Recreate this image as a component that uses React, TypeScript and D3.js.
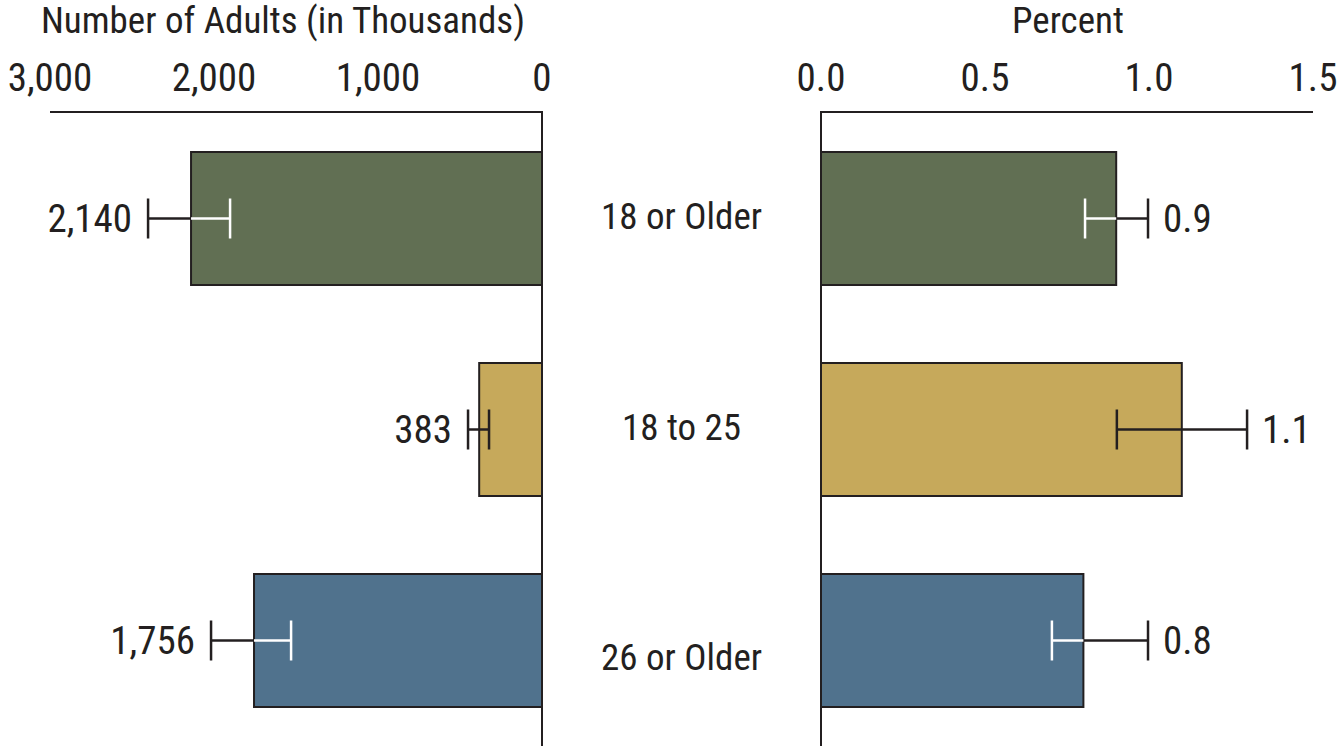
import React from "react";
import * as d3 from "d3";

const categories = ["18 or Older", "18 to 25", "26 or Older"];
const adults = [2140, 383, 1756];
const adultsLow = [1902, 323, 1530];
const adultsHigh = [2402, 451, 2018];
const adultLabels = ["2,140", "383", "1,756"];
const percent = [0.9, 1.1, 0.8];
const percentLow = [0.805, 0.902, 0.704];
const percentHigh = [0.997, 1.299, 0.997];
const percentLabels = ["0.9", "1.1", "0.8"];
const colors = ["#616F53", "#C6A95B", "#50728D"];
const whiteInner = [true, false, true];
const adultTicks = [3000, 2000, 1000, 0];
const percentTicks = [0, 0.5, 1.0, 1.5];

const FONT = "'Liberation Sans Narrow', 'Roboto Condensed', 'Liberation Sans', Arial, sans-serif";

export default function App() {
  const W = 1341, H = 754;
  const axisY = 112;
  const xL = d3.scaleLinear().domain([0, 3000]).range([542, 50]);
  const xR = d3.scaleLinear().domain([0, 1.5]).range([821, 1313]);
  const yb = d3.scaleBand<string>().domain(categories).range([152, 707]).paddingInner(78 / 211);
  const bw = yb.bandwidth();
  const capH = 40;
  const ew = 2.5;
  const fmtL = d3.format(",");
  const fmtR = d3.format(".1f");
  const ink = "#231F20";
  const catOffset = (i: number) => (i === categories.length - 1 ? 16 : -3);

  return (
    <svg width={W} height={H} style={{ position: "absolute", left: 0, top: 0 }} fontFamily={FONT}>
      <rect width={W} height={H} fill="#fff" />
      <text x={(xL(0) + xL(3000)) / 2 - 13} y={33} fontSize={37} textAnchor="middle" fill={ink}>
        Number of Adults (in Thousands)
      </text>
      <text x={(xR(0) + xR(1.5)) / 2 + 1} y={33} fontSize={37} textAnchor="middle" fill={ink}>
        Percent
      </text>
      {adultTicks.map((t) => (
        <text key={"lt" + t} x={xL(t)} y={91} fontSize={39} textAnchor="middle" fill={ink}>
          {fmtL(t)}
        </text>
      ))}
      {percentTicks.map((t) => (
        <text key={"rt" + t} x={xR(t)} y={91} fontSize={39} textAnchor="middle" fill={ink}>
          {fmtR(t)}
        </text>
      ))}
      {categories.map((c, i) => (
        <rect key={"lb" + c} x={xL(adults[i])} y={yb(c)!} width={xL(0) - xL(adults[i])} height={bw}
          fill={colors[i]} stroke={ink} strokeWidth={2} />
      ))}
      {categories.map((c, i) => (
        <rect key={"rb" + c} x={xR(0)} y={yb(c)!} width={xR(percent[i]) - xR(0)} height={bw}
          fill={colors[i]} stroke={ink} strokeWidth={2} />
      ))}
      <line x1={xL(3000)} x2={xL(0)} y1={axisY} y2={axisY} stroke={ink} strokeWidth={2} />
      <line x1={xL(0)} x2={xL(0)} y1={axisY - 1} y2={746} stroke={ink} strokeWidth={2} />
      <line x1={xR(0)} x2={xR(1.5)} y1={axisY} y2={axisY} stroke={ink} strokeWidth={2} />
      <line x1={xR(0)} x2={xR(0)} y1={axisY - 1} y2={746} stroke={ink} strokeWidth={2} />
      {categories.map((c, i) => {
        const cy = yb(c)! + bw / 2;
        const xa = xL(adultsHigh[i]);
        const xb = xL(adultsLow[i]);
        const xe = xL(adults[i]);
        const inner = whiteInner[i] ? "#fff" : ink;
        return (
          <g key={"le" + c}>
            <line x1={xa} x2={xe} y1={cy} y2={cy} stroke={ink} strokeWidth={ew} />
            <line x1={xa} x2={xa} y1={cy - capH / 2} y2={cy + capH / 2} stroke={ink} strokeWidth={ew} />
            <line x1={xe} x2={xb} y1={cy} y2={cy} stroke={inner} strokeWidth={ew} />
            <line x1={xb} x2={xb} y1={cy - capH / 2} y2={cy + capH / 2} stroke={inner} strokeWidth={ew} />
            <text x={xa - 16} y={cy + 13} fontSize={39} textAnchor="end" fill={ink}>{adultLabels[i]}</text>
          </g>
        );
      })}
      {categories.map((c, i) => {
        const cy = yb(c)! + bw / 2;
        const xa = xR(percentHigh[i]);
        const xb = xR(percentLow[i]);
        const xe = xR(percent[i]);
        const inner = whiteInner[i] ? "#fff" : ink;
        return (
          <g key={"re" + c}>
            <line x1={xe} x2={xa} y1={cy} y2={cy} stroke={ink} strokeWidth={ew} />
            <line x1={xa} x2={xa} y1={cy - capH / 2} y2={cy + capH / 2} stroke={ink} strokeWidth={ew} />
            <line x1={xb} x2={xe} y1={cy} y2={cy} stroke={inner} strokeWidth={ew} />
            <line x1={xb} x2={xb} y1={cy - capH / 2} y2={cy + capH / 2} stroke={inner} strokeWidth={ew} />
            <text x={xa + 15} y={cy + 13} fontSize={39} textAnchor="start" fill={ink}>{percentLabels[i]}</text>
          </g>
        );
      })}
      {categories.map((c, i) => (
        <text key={"cl" + c} x={(xL(0) + xR(0)) / 2} y={yb(c)! + bw / 2 + 13 + catOffset(i)} fontSize={37}
          textAnchor="middle" fill={ink}>
          {c}
        </text>
      ))}
    </svg>
  );
}
